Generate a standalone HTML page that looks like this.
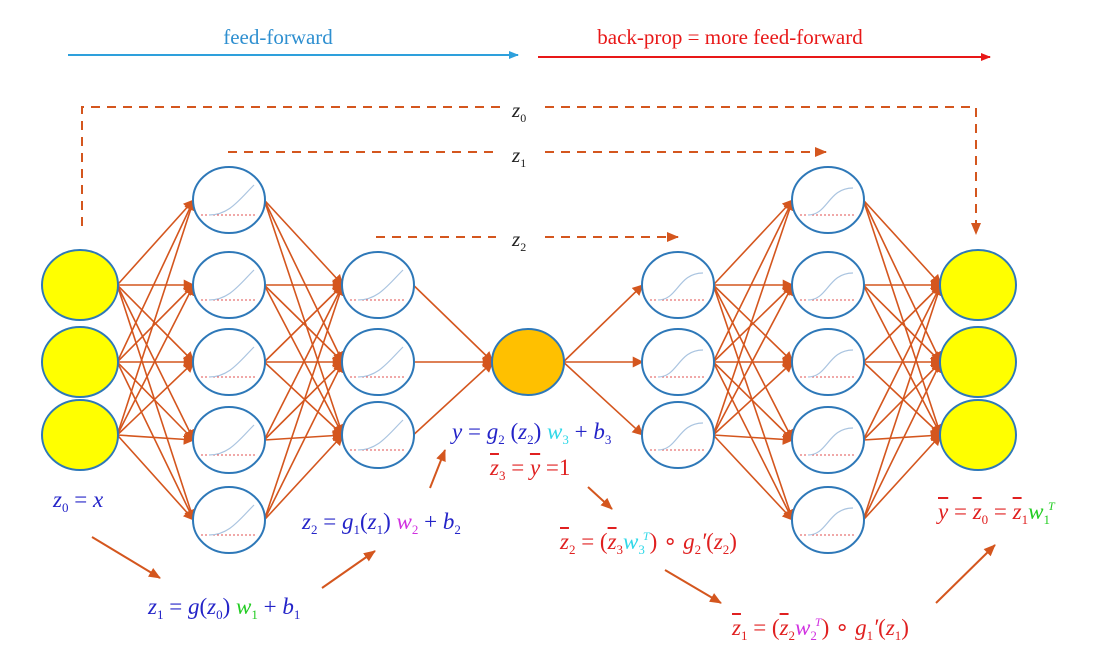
<!DOCTYPE html>
<html><head><meta charset="utf-8">
<style>
html,body{margin:0;padding:0;background:#fff;}
#wrap{position:relative;width:1113px;height:655px;overflow:hidden;font-family:"Liberation Serif",serif;}
.eq{position:absolute;font-style:italic;font-size:23px;white-space:nowrap;line-height:1;}
.eq sub{font-size:13px;vertical-align:-5px;font-style:normal;}
.eq sup{font-size:12px;vertical-align:9px;margin-left:-2px;}
.ob{text-decoration:overline;}
.b{color:#2424c8}.r{color:#e02020}.g{color:#22cc22}.m{color:#d030e0}.c{color:#30d8e8}
.up{font-style:normal}
</style></head><body>
<div id="wrap">
<svg id="svg" width="1113" height="655" style="position:absolute;left:0;top:0">
<defs>
<marker id="ah" markerWidth="11" markerHeight="11" refX="10" refY="5.5" orient="auto" markerUnits="userSpaceOnUse" viewBox="0 0 11 11"><path d="M0,0 L11,5.5 L0,11 z" fill="#d4561e"/></marker>
<marker id="ahb" markerWidth="10" markerHeight="10" refX="9" refY="5" orient="auto" markerUnits="userSpaceOnUse" viewBox="0 0 10 10"><path d="M0,1 L10,5 L0,9 z" fill="#2ea0dc"/></marker>
<marker id="ahr" markerWidth="10" markerHeight="10" refX="9" refY="5" orient="auto" markerUnits="userSpaceOnUse" viewBox="0 0 10 10"><path d="M0,1 L10,5 L0,9 z" fill="#e81818"/></marker>
<marker id="ahd" markerWidth="12" markerHeight="12" refX="11" refY="6" orient="auto" markerUnits="userSpaceOnUse" viewBox="0 0 12 12"><path d="M0,1 L12,6 L0,11 z" fill="#d4561e"/></marker>
</defs>
<line x1="68" y1="55" x2="518" y2="55" stroke="#2ea0dc" stroke-width="2" marker-end="url(#ahb)"/>
<text x="278" y="44" fill="#2e8fd0" font-size="21" text-anchor="middle" font-family="Liberation Serif">feed-forward</text>
<line x1="538" y1="57" x2="990" y2="57" stroke="#e81818" stroke-width="2" marker-end="url(#ahr)"/>
<text x="730" y="44" fill="#e81818" font-size="21" text-anchor="middle" font-family="Liberation Serif">back-prop = more feed-forward</text>
<g fill="none" stroke="#d4561e" stroke-width="2" stroke-dasharray="9,7">
<path d="M82,226 L82,107 L500,107 M545,107 L976,107 L976,234" marker-end="url(#ahd)"/>
<path d="M228,152 L498,152 M545,152 L826,152" marker-end="url(#ahd)"/>
<path d="M376,237 L496,237 M545,237 L678,237" marker-end="url(#ahd)"/>
</g>
<text x="512" y="117" font-size="21" font-style="italic" fill="#222">z<tspan font-size="12" dy="5" font-style="normal">0</tspan></text>
<text x="512" y="162" font-size="21" font-style="italic" fill="#222">z<tspan font-size="12" dy="5" font-style="normal">1</tspan></text>
<text x="512" y="246" font-size="21" font-style="italic" fill="#222">z<tspan font-size="12" dy="5" font-style="normal">2</tspan></text>
<g id="edges"></g><g id="nodes"></g>
<g fill="none" stroke="#d4561e" stroke-width="2">
<line x1="92" y1="537" x2="160" y2="578" marker-end="url(#ahd)"/>
<line x1="322" y1="588" x2="375" y2="551" marker-end="url(#ahd)"/>
<line x1="430" y1="488" x2="445" y2="450" marker-end="url(#ahd)"/>
<line x1="588" y1="487" x2="612" y2="509" marker-end="url(#ahd)"/>
<line x1="665" y1="570" x2="721" y2="603" marker-end="url(#ahd)"/>
<line x1="936" y1="603" x2="995" y2="545" marker-end="url(#ahd)"/>
</g>
</svg>
<div class="eq b" style="left:53px;top:488px">z<sub>0</sub> <span class="up">=</span> x</div>
<div class="eq b" style="left:148px;top:595px">z<sub>1</sub> <span class="up">=</span> g<span class="up">(</span>z<sub>0</sub><span class="up">)</span> <span class="g">w<sub>1</sub></span> <span class="up">+</span> b<sub>1</sub></div>
<div class="eq b" style="left:302px;top:510px">z<sub>2</sub> <span class="up">=</span> g<sub>1</sub><span class="up">(</span>z<sub>1</sub><span class="up">)</span> <span class="m">w<sub>2</sub></span> <span class="up">+</span> b<sub>2</sub></div>
<div class="eq b" style="left:452px;top:420px">y <span class="up">=</span> g<sub>2</sub> <span class="up">(</span>z<sub>2</sub><span class="up">)</span> <span class="c">w<sub>3</sub></span> <span class="up">+</span> b<sub>3</sub></div>
<div class="eq r" style="left:490px;top:456px"><span class="ob">z</span><sub>3</sub> <span class="up">=</span> <span class="ob">y</span> <span class="up">=1</span></div>
<div class="eq r" style="left:560px;top:530px"><span class="ob">z</span><sub>2</sub> <span class="up">= (</span><span class="ob">z</span><sub>3</sub><span class="c">w<sub>3</sub><sup>T</sup></span><span class="up">) ∘ </span>g<sub>2</sub>′<span class="up">(</span>z<sub>2</sub><span class="up">)</span></div>
<div class="eq r" style="left:732px;top:616px"><span class="ob">z</span><sub>1</sub> <span class="up">= (</span><span class="ob">z</span><sub>2</sub><span class="m">w<sub>2</sub><sup>T</sup></span><span class="up">) ∘ </span>g<sub>1</sub>′<span class="up">(</span>z<sub>1</sub><span class="up">)</span></div>
<div class="eq r" style="left:938px;top:500px"><span class="ob">y</span> <span class="up">=</span> <span class="ob">z</span><sub>0</sub> <span class="up">=</span> <span class="ob">z</span><sub>1</sub><span class="g">w<sub>1</sub><sup>T</sup></span></div>
</div>
<script>
const layerX=[80,229,378,528,678,828,978];
const layerSizes=[3,5,3,1,3,5,3];
const ys={3:[285,362,435],5:[200,285,362,440,520],1:[362]};
const NS="http://www.w3.org/2000/svg";
const E=document.getElementById('edges'),N=document.getElementById('nodes');
function rad(l){return (l==0||l==6)?[38,35]:[36,33];}
function mk(t,a){const e=document.createElementNS(NS,t);for(const k in a)e.setAttribute(k,a[k]);return e;}
for(let l=0;l<layerX.length-1;l++){
  const a=ys[layerSizes[l]],b=ys[layerSizes[l+1]];
  const [ra]=rad(l),[rb]=rad(l+1);
  a.forEach(y1=>b.forEach(y2=>{
    const x1=layerX[l]+ra*0.98,x2=layerX[l+1]-rb*0.98;
    const ln=mk('line',{x1:x1,y1:y1,x2:x2,y2:y2,stroke:'#d4561e','stroke-width':1.6,'marker-end':'url(#ah)'});
    
    
    E.appendChild(ln);
  }));
}
layerX.forEach((x,l)=>{
  const [rx,ry]=rad(l);
  ys[layerSizes[l]].forEach(y=>{
    const g=mk('g',{});
    
    
    let fill=l==3?'#ffc000':(l==0||l==6)?'#ffff00':'#fff';
    g.appendChild(mk('ellipse',{cx:x,cy:y,rx:rx,ry:ry,fill:fill,stroke:'#2e78b8','stroke-width':2}));
    if(fill=='#fff'){
      g.appendChild(mk('line',{x1:x-28,y1:y+15,x2:x+28,y2:y+15,stroke:'#e05050','stroke-width':1,'stroke-dasharray':'2,2'}));
      const d=l<3?`M${x-20},${y+15} C${x},${y+15} ${x+10},${y} ${x+25},${y-15}`:`M${x-20},${y+15} C${x},${y+15} ${x},${y-12} ${x+25},${y-12}`;
      g.appendChild(mk('path',{d:d,fill:'none',stroke:'#aac4e0','stroke-width':1.2}));
    }
    N.appendChild(g);
  });
});
</script>
</body></html>
